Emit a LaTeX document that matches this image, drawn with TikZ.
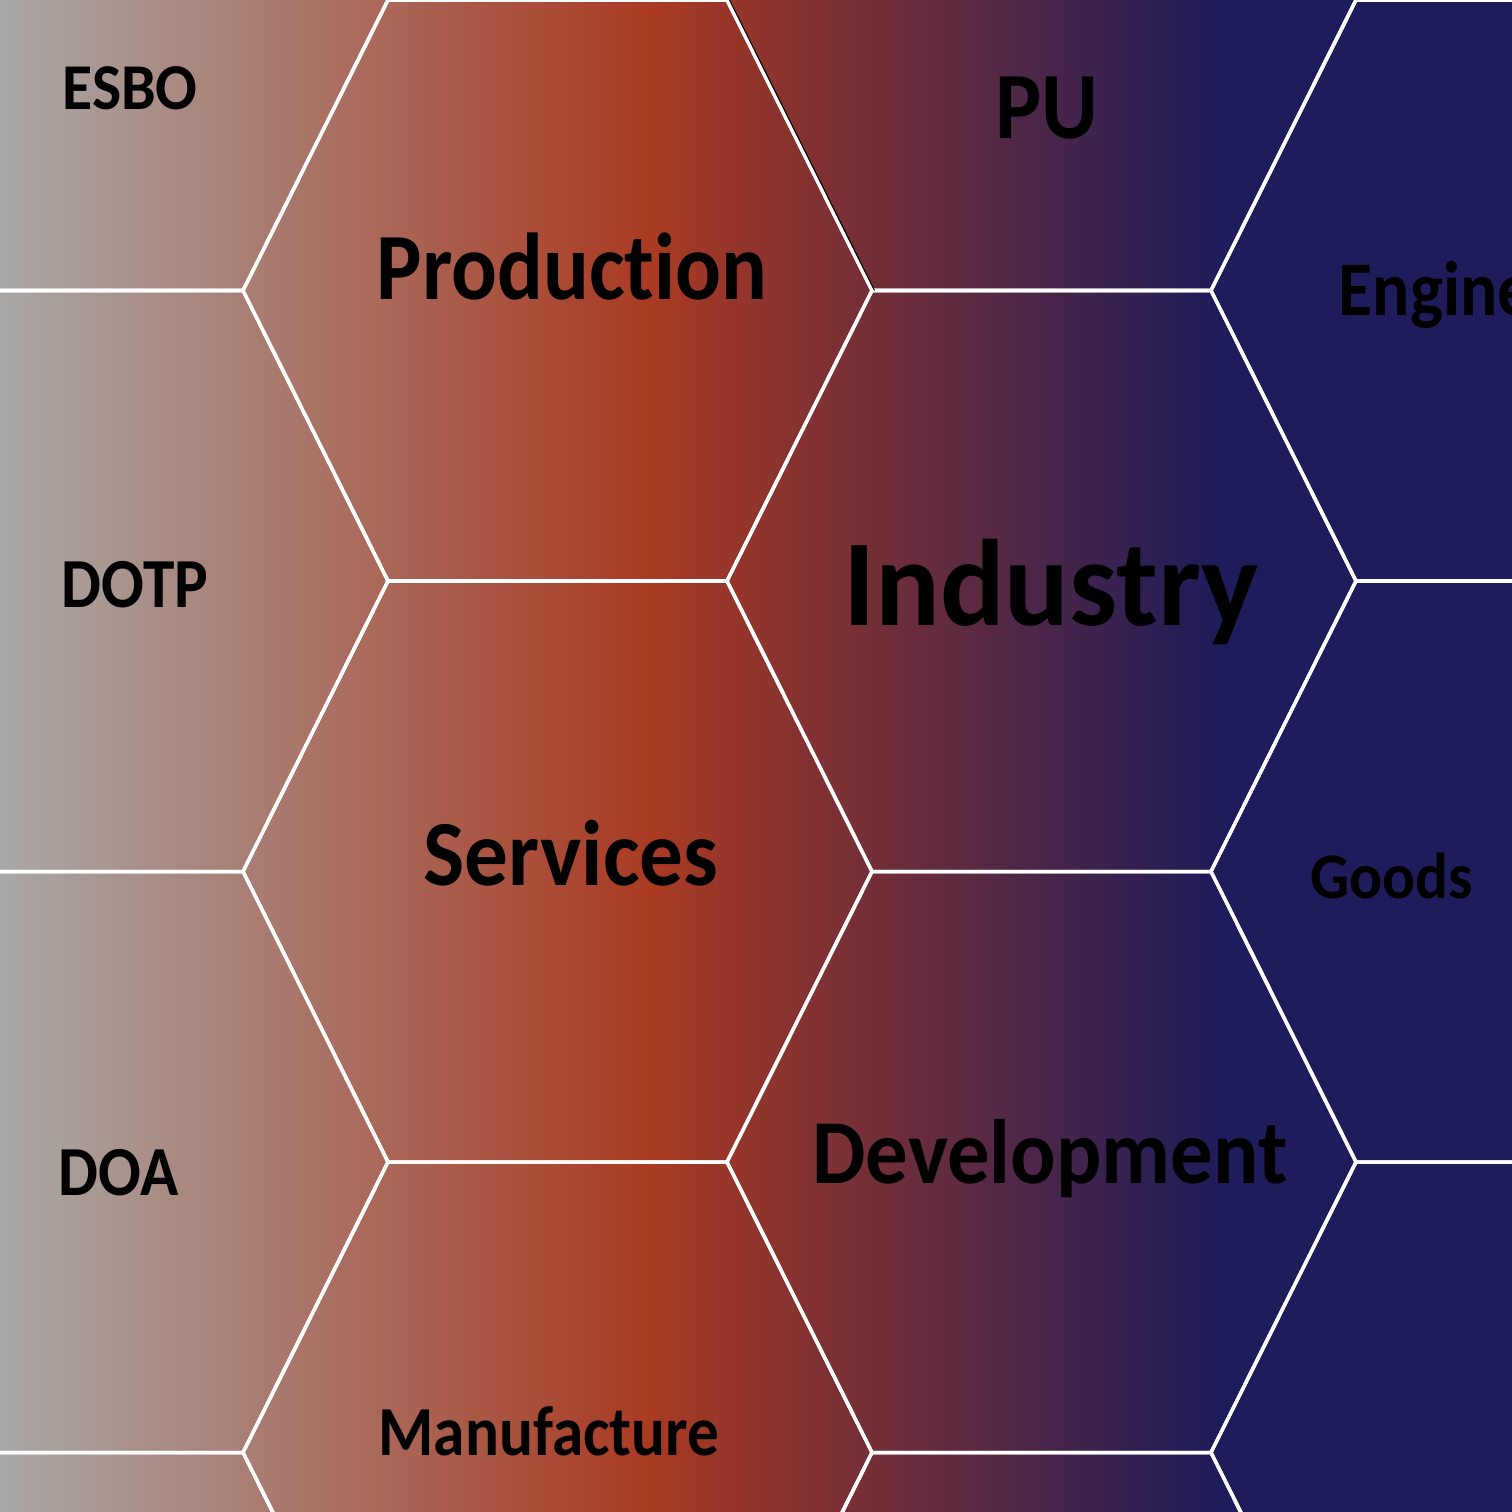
\documentclass[tikz,border=0pt]{standalone}
\usepackage{fontspec}
\setmainfont{Carlito}[Ligatures=NoCommon]
\definecolor{bggray}{HTML}{A9A8A6}
\definecolor{bgrust}{HTML}{AA3A22}
\definecolor{bgnavy}{HTML}{1E1C5A}
\pgfdeclarehorizontalshading{bgshade}{100bp}{color(0bp)=(bggray); color(25bp)=(bggray); color(46.5bp)=(bgrust); color(65.3bp)=(bgnavy); color(100bp)=(bgnavy)}
\tikzset{
	hexline/.style={draw=white, line width=1pt, line join=miter},
	hexlabel/.style={text=black, inner sep=0pt, anchor=base, xscale=0.9},
	fsize/.style={font=\bfseries\fontsize{#1}{#1}\selectfont}
}
\newcommand{\hexcell}[2]{%
	\draw[hexline] (#1-314.5,#2) -- (#1-169.5,#2-290.5) -- (#1+169.5,#2-290.5)
		-- (#1+314.5,#2) -- (#1+169.5,#2+290.5) -- (#1-169.5,#2+290.5) -- cycle;}
\begin{document}
\begin{tikzpicture}[x=0.01cm, y=-0.01cm]
	\useasboundingbox (0,0) rectangle (1512,1512);
	\clip (0,0) rectangle (1512,1512);
	% Background gradient
	\shade[shading=bgshade] (0,0) rectangle (1512,1512);

	% Draw the hexagon grid
	\foreach \cy in {0, 581, 1162, 1743} {
		\hexcell{73.5}{\cy}
		\hexcell{1041.5}{\cy}
	}
	\foreach \cy in {-290.5, 290.5, 871.5, 1452.5} {
		\hexcell{557.5}{\cy}
		\hexcell{1525.5}{\cy}
	}
	\draw[black, line width=0.3pt] (729.5,0) -- (874.5,290.5);

	% Labels of the cells
	\node[hexlabel, fsize=18.6, xscale=1.05] (esbo) at (130, 110) {ESBO};
	\node[hexlabel, fsize=27, xscale=1.02] (pu) at (1047, 138) {PU};
	\node[hexlabel, fsize=27] (production) at (572, 299) {Production};
	\node[hexlabel, anchor=base west, fsize=22] (engine) at (1338, 315) {Engineering};
	\node[hexlabel, fsize=20] (dotp) at (135, 607) {DOTP};
	\node[hexlabel, fsize=35, xscale=1.09] (industry) at (1051, 625) {Industry};
	\node[hexlabel, fsize=26.5, xscale=1.04] (services) at (571, 885) {Services};
	\node[hexlabel, fsize=18.5, xscale=1.05] (goods) at (1392, 898) {Goods};
	\node[hexlabel, fsize=20] (doa) at (119, 1195) {DOA};
	\node[hexlabel, fsize=26, xscale=1.03] (development) at (1050, 1183) {Development};
	\node[hexlabel, fsize=20] (manufacture) at (549, 1455) {Manufacture};
\end{tikzpicture}
\end{document}
